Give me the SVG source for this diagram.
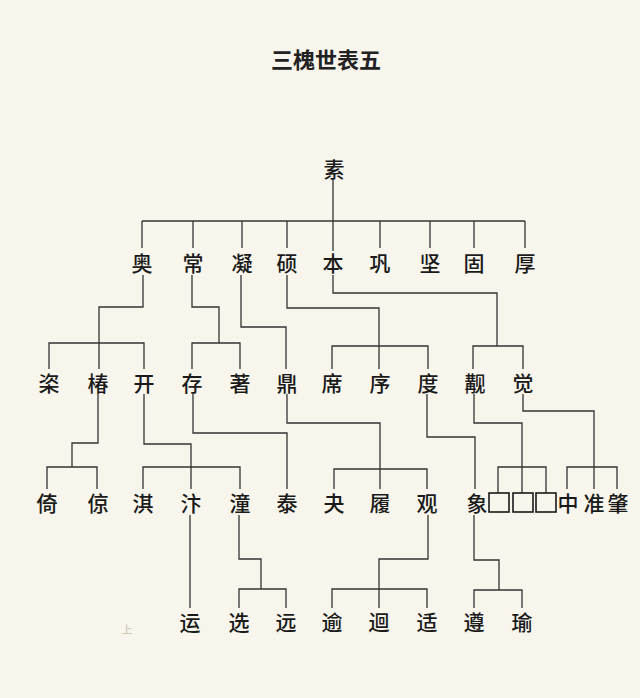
<svg xmlns="http://www.w3.org/2000/svg" width="640" height="698" viewBox="0 0 640 698">
<style>
.t{font-family:"Noto Sans CJK SC","Noto Sans CJK TC",sans-serif;font-size:21px;font-weight:500;fill:#1a1a1a;text-anchor:middle;dominant-baseline:central}
.title{font-family:"Noto Sans CJK SC",sans-serif;font-size:22px;font-weight:bold;fill:#222;text-anchor:middle;dominant-baseline:central}
.c polyline,.c line{fill:none;stroke:#333;stroke-width:1.3}
.box{fill:none;stroke:#1a1a1a;stroke-width:1.6}
</style>
<rect width="640" height="698" fill="#f7f5ec"/>
<text class="title" x="326" y="58">三槐世表五</text>
<g id="connectors" class="c">
<line x1="333" y1="179" x2="333" y2="251"/>
<line x1="142" y1="221" x2="525" y2="221"/>
<line x1="142" y1="221" x2="142" y2="248"/>
<line x1="193" y1="221" x2="193" y2="248"/>
<line x1="242" y1="221" x2="242" y2="248"/>
<line x1="287" y1="221" x2="287" y2="248"/>
<line x1="380" y1="221" x2="380" y2="248"/>
<line x1="430" y1="221" x2="430" y2="248"/>
<line x1="474" y1="221" x2="474" y2="248"/>
<line x1="525" y1="221" x2="525" y2="248"/>
<polyline points="143,275 143,307 99,307 99,369"/>
<polyline points="49,369 49,343 144,343 144,369"/>
<polyline points="192,275 192,307 219,307 219,343"/>
<polyline points="192,369 192,343 240,343 240,369"/>
<polyline points="241,275 241,327 286,327 286,369"/>
<polyline points="287,275 287,308 379,308 379,369"/>
<polyline points="332,369 332,346 428,346 428,369"/>
<polyline points="333,275 333,293 497,293 497,346"/>
<polyline points="473,369 473,346 523,346 523,369"/>
<polyline points="98,394 98,443 72,443 72,467"/>
<polyline points="47,489 47,467 97,467 97,489"/>
<polyline points="144,394 144,444 191,444 191,489"/>
<polyline points="143,489 143,467 240,467 240,489"/>
<polyline points="193,394 193,433 287,433 287,489"/>
<polyline points="287,394 287,423 380,423 380,489"/>
<polyline points="334,489 334,469 427,469 427,489"/>
<polyline points="427,394 427,437 475,437 475,489"/>
<polyline points="474,394 474,423 522,423 522,493"/>
<polyline points="498,493 498,467 546,467 546,493"/>
<polyline points="523,394 523,411 594,411 594,489"/>
<polyline points="567,489 567,467 617,467 617,489"/>
<line x1="190" y1="515" x2="190" y2="608"/>
<polyline points="239,515 239,559 261,559 261,589"/>
<polyline points="239,608 239,589 286,589 286,608"/>
<polyline points="428,515 428,559 379,559 379,608"/>
<polyline points="332,608 332,589 427,589 427,608"/>
<polyline points="474,515 474,560 499,560 499,590"/>
<polyline points="474,608 474,590 522,590 522,608"/>
</g>
<g id="n-su"><text class="t" x="334" y="168">素</text></g>
<g id="n-ao"><text class="t" x="142" y="262">奥</text></g>
<g id="n-chang"><text class="t" x="193" y="262">常</text></g>
<g id="n-ning"><text class="t" x="242" y="262">凝</text></g>
<g id="n-shuo"><text class="t" x="287" y="262">硕</text></g>
<g id="n-ben"><text class="t" x="333" y="262">本</text></g>
<g id="n-gong"><text class="t" x="380" y="262">巩</text></g>
<g id="n-jian"><text class="t" x="430" y="262">坚</text></g>
<g id="n-gu"><text class="t" x="474" y="262">固</text></g>
<g id="n-hou"><text class="t" x="525" y="262">厚</text></g>
<g id="n-zi"><text class="t" x="49" y="382">栥</text></g>
<g id="n-chun"><text class="t" x="98" y="382">椿</text></g>
<g id="n-kai"><text class="t" x="144" y="382">开</text></g>
<g id="n-cun"><text class="t" x="192" y="382">存</text></g>
<g id="n-zhu"><text class="t" x="240" y="382">著</text></g>
<g id="n-ding"><text class="t" x="287" y="382">鼎</text></g>
<g id="n-xi"><text class="t" x="332" y="382">席</text></g>
<g id="n-xu"><text class="t" x="380" y="382">序</text></g>
<g id="n-du"><text class="t" x="428" y="382">度</text></g>
<g id="n-gou"><text class="t" x="475" y="382">觏</text></g>
<g id="n-jue"><text class="t" x="523" y="382">觉</text></g>
<g id="n-yi"><text class="t" x="47" y="502">倚</text></g>
<g id="n-jing"><text class="t" x="98" y="502">倞</text></g>
<g id="n-qi"><text class="t" x="143" y="502">淇</text></g>
<g id="n-bian"><text class="t" x="191" y="502">汴</text></g>
<g id="n-tong"><text class="t" x="240" y="502">潼</text></g>
<g id="n-tai"><text class="t" x="287" y="502">泰</text></g>
<g id="n-guai"><text class="t" x="334" y="502">夬</text></g>
<g id="n-lv"><text class="t" x="380" y="502">履</text></g>
<g id="n-guan"><text class="t" x="427" y="502">观</text></g>
<g id="n-xiang"><text class="t" x="477" y="502">象</text></g>
<g id="n-box1"><rect class="box" x="489" y="493" width="20" height="19"/></g>
<g id="n-box2"><rect class="box" x="513" y="493" width="20" height="19"/></g>
<g id="n-box3"><rect class="box" x="536" y="493" width="20" height="19"/></g>
<g id="n-zhong"><text class="t" x="568" y="502">中</text></g>
<g id="n-zhun"><text class="t" x="594" y="502">准</text></g>
<g id="n-zhao"><text class="t" x="618" y="502">肇</text></g>
<g id="n-yun"><text class="t" x="190" y="621">运</text></g>
<g id="n-xuan"><text class="t" x="239" y="621">选</text></g>
<g id="n-yuan"><text class="t" x="286" y="621">远</text></g>
<g id="n-yu"><text class="t" x="332" y="621">逾</text></g>
<g id="n-hui"><text class="t" x="379" y="621">迴</text></g>
<g id="n-shi"><text class="t" x="427" y="621">适</text></g>
<g id="n-zun"><text class="t" x="474" y="621">遵</text></g>
<g id="n-yu2"><text class="t" x="522" y="621">瑜</text></g>
<text x="127" y="634" font-family="Noto Sans CJK SC, sans-serif" font-size="11" fill="#c8c2b0" text-anchor="middle">上</text>
</svg>
